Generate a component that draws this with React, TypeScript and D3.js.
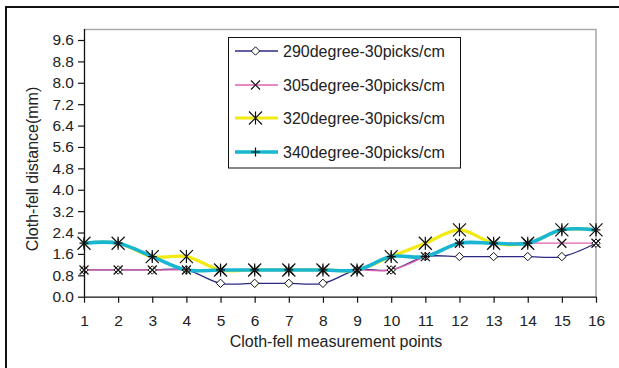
import React, { useEffect, useRef } from "react";
import * as d3 from "d3";

// measurement points along the cloth-fell
const points = [1, 2, 3, 4, 5, 6, 7, 8, 9, 10, 11, 12, 13, 14, 15, 16];

const s290 = [1, 1, 1, 1, 0.5, 0.5, 0.5, 0.5, 1, 1, 1.5, 1.5, 1.5, 1.5, 1.5, 2];
const s305 = [1, 1, 1, 1, 1, 1, 1, 1, 1, 1, 1.5, 2, 2, 2, 2, 2];
const s320 = [2, 2, 1.5, 1.5, 1, 1, 1, 1, 1, 1.5, 2, 2.5, 2, 2, 2.5, 2.5];
const s340 = [2, 2, 1.5, 1, 1, 1, 1, 1, 1, 1.5, 1.5, 2, 2, 2, 2.5, 2.5];

const seriesNames = [
  "290degree-30picks/cm",
  "305degree-30picks/cm",
  "320degree-30picks/cm",
  "340degree-30picks/cm",
];

const yTicks = [0, 0.8, 1.6, 2.4, 3.2, 4.0, 4.8, 5.6, 6.4, 7.2, 8.0, 8.8, 9.6];

const FONT = "'Liberation Sans', Arial, sans-serif";

export default function App() {
  const ref = useRef<SVGSVGElement>(null);

  useEffect(() => {
    const svg = d3.select(ref.current);
    svg.selectAll("*").remove();

    const x = d3.scaleLinear().domain([1, 16]).range([84, 596]);
    const y = d3.scaleLinear().domain([0, 9.6]).range([296.7, 40]);

    // outer frame (only left and top visible)
    svg.append("path")
      .attr("d", "M6,368 L6,7 L619,7")
      .attr("fill", "none")
      .attr("stroke", "#111")
      .attr("stroke-width", 2);

    // plot area top & right border
    svg.append("path")
      .attr("d", `M84,29.5 L596,29.5 L596,${y(0)}`)
      .attr("fill", "none")
      .attr("stroke", "#aaa")
      .attr("stroke-width", 1.6);

    const series = [
      { name: seriesNames[0], values: s290, color: "#2b2a85", width: 1.3, marker: "diamond" },
      { name: seriesNames[1], values: s305, color: "#e060b0", width: 1.3, marker: "x" },
      { name: seriesNames[2], values: s320, color: "#f2ea12", width: 3.2, marker: "asterisk" },
      { name: seriesNames[3], values: s340, color: "#18b6d2", width: 3.6, marker: "plus" },
    ];

    const line = d3.line<number>()
      .x((_, i) => x(points[i]))
      .y((d) => y(d))
      .curve(d3.curveCatmullRom.alpha(0.5));

    const g = svg.append("g");
    series.forEach((s) => {
      g.append("path")
        .attr("d", line(s.values))
        .attr("fill", "none")
        .attr("stroke", s.color)
        .attr("stroke-width", s.width);
    });

    const drawMarker = (sel: any, type: string, cx: number, cy: number) => {
      let d = "";
      if (type === "diamond") {
        const r = 4.2;
        d = `M${cx},${cy - r}L${cx + r},${cy}L${cx},${cy + r}L${cx - r},${cy}Z`;
        sel.append("path").attr("d", d).attr("fill", "#fff").attr("stroke", "#111").attr("stroke-width", 1);
        return;
      }
      if (type === "x") {
        const r = 4.5;
        d = `M${cx - r},${cy - r}L${cx + r},${cy + r}M${cx - r},${cy + r}L${cx + r},${cy - r}`;
      } else if (type === "asterisk") {
        const r = 6.5;
        d = `M${cx - r},${cy - r}L${cx + r},${cy + r}M${cx - r},${cy + r}L${cx + r},${cy - r}M${cx},${cy - r}L${cx},${cy + r}`;
      } else {
        const r = 4.5;
        d = `M${cx - r},${cy}L${cx + r},${cy}M${cx},${cy - r}L${cx},${cy + r}`;
      }
      sel.append("path").attr("d", d).attr("fill", "none").attr("stroke", "#111").attr("stroke-width", 1.2);
    };

    series.forEach((s) => {
      s.values.forEach((v, i) => drawMarker(g, s.marker, x(points[i]), y(v)));
    });

    // axes
    const yAxis = d3.axisLeft(y).tickValues(yTicks).tickSize(6).tickPadding(4).tickFormat(d3.format(".1f"));
    const ya = svg.append("g").attr("transform", "translate(84,0)").call(yAxis);
    const xAxis = d3.axisBottom(x).tickValues(points).tickSize(6).tickPadding(12).tickFormat(d3.format("d"));
    const xa = svg.append("g").attr("transform", `translate(0,${y(0)})`).call(xAxis);
    [ya, xa].forEach((a) => {
      a.select(".domain").attr("stroke", "#111").attr("stroke-width", 1.3);
      a.selectAll(".tick line").attr("stroke", "#111").attr("stroke-width", 1.2);
      a.selectAll("text").attr("font-family", FONT).attr("font-size", 15.5).attr("fill", "#222");
    });
    xa.select(".domain").attr("d", `M84,0.5H596`);
    ya.select(".domain").attr("d", `M0.5,29V${y(0)}`);

    svg.append("text")
      .attr("x", 336).attr("y", 347)
      .attr("text-anchor", "middle")
      .attr("font-family", FONT).attr("font-size", 16).attr("fill", "#222")
      .text("Cloth-fell measurement points");

    svg.append("text")
      .attr("transform", "translate(38,169) rotate(-90)")
      .attr("text-anchor", "middle")
      .attr("font-family", FONT).attr("font-size", 16).attr("fill", "#222")
      .text("Cloth-fell distance(mm)");

    // legend
    const lg = svg.append("g");
    lg.append("rect")
      .attr("x", 228.5).attr("y", 37.5).attr("width", 232).attr("height", 130.5)
      .attr("fill", "#fff").attr("stroke", "#111").attr("stroke-width", 1);
    const ly = [51, 85, 118, 152];
    series.forEach((s, i) => {
      lg.append("line")
        .attr("x1", 235).attr("x2", 278).attr("y1", ly[i]).attr("y2", ly[i])
        .attr("stroke", s.color).attr("stroke-width", s.width);
      drawMarker(lg, s.marker, 255.5, ly[i]);
      lg.append("text")
        .attr("x", 283).attr("y", ly[i] + 5.5)
        .attr("font-family", FONT).attr("font-size", 16).attr("fill", "#222")
        .text(s.name);
    });
  }, []);

  return (
    <svg
      ref={ref}
      width={619}
      height={368}
      style={{ position: "absolute", left: 0, top: 0, background: "#fff" }}
    />
  );
}
